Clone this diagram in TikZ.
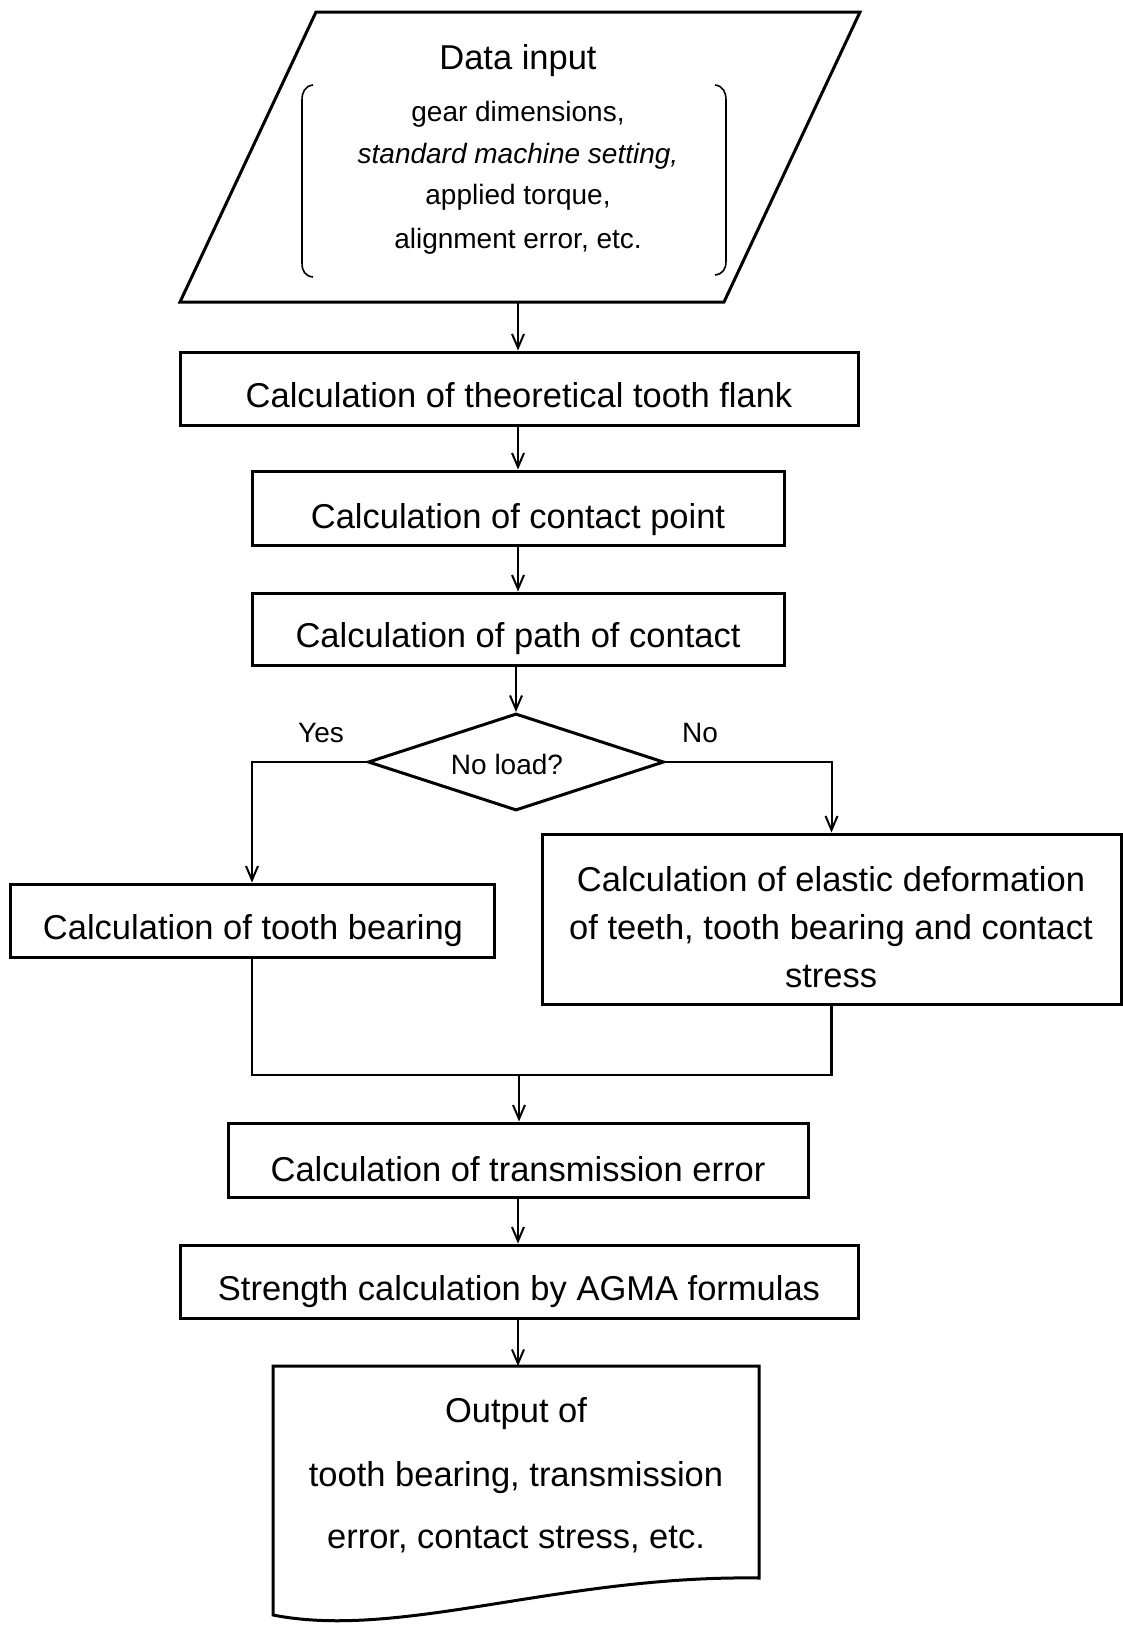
\documentclass[tikz,border=0pt]{standalone}
\usepackage{fontspec}
\setmainfont{Liberation Sans}
\usetikzlibrary{shapes.geometric,arrows.meta}
\tikzset{
  box/.style={draw, line width=3pt, rectangle, inner sep=0pt, fill=white},
  txt/.style={anchor=base, inner sep=0pt, font=\fontsize{34.5}{40}\selectfont},
  stxt/.style={anchor=base, inner sep=0pt, font=\fontsize{28}{33}\selectfont},
  conn/.style={line width=2pt, -{Straight Barb[length=14pt,width=12pt,line width=2pt]}},
  plain/.style={line width=2.2pt},
  brk/.style={line width=1.6pt}
}
\begin{document}
\begin{tikzpicture}[x=1pt,y=-1pt]
\useasboundingbox (0,0) rectangle (1123,1630);
% data input parallelogram
\draw[line width=3pt] (316,12) -- (860,12) -- (724,302) -- (180,302) -- cycle;
\coordinate (pin) at (518,302);
\node[txt] (tin) at (518,69) {Data input};
\draw[brk] (313,85) .. controls (305,86) and (302,92) .. (302,100) -- (302,263) .. controls (302,271) and (305,276) .. (313,277);
\draw[brk] (715,85) .. controls (723,86) and (726,92) .. (726,100) -- (726,261) .. controls (726,269) and (723,274) .. (715,275);
\node[stxt] (l1) at (518,121) {gear dimensions,};
\node[stxt] (l2) at (518,163) {\textit{standard machine setting,}};
\node[stxt] (l3) at (518,204) {applied torque,};
\node[stxt] (l4) at (518,248) {alignment error, etc.};
% boxes
\node[box, minimum width=678pt, minimum height=73pt] (b1) at (519,388.5) {};
\node[txt] (t1) at (519,407) {Calculation of theoretical tooth flank};
\node[box, minimum width=532pt, minimum height=74pt] (b2) at (518,508) {};
\node[txt] (t2) at (518,528) {Calculation of contact point};
\node[box, minimum width=532pt, minimum height=72pt] (b3) at (518,629) {};
\node[txt] (t3) at (518,647) {Calculation of path of contact};
\node[diamond, draw, line width=3pt, aspect=3, minimum width=296pt, minimum height=97pt, inner sep=0pt] (d) at (516,762) {};
\node[stxt] (td) at (507,774) {No load?};
\node[stxt] (yes) at (321,742) {Yes};
\node[stxt] (no) at (700,742) {No};
\node[box, minimum width=484pt, minimum height=73pt] (b4) at (252,920.5) {};
\node[txt] (t4) at (253,939.5) {Calculation of tooth bearing};
\node[box, minimum width=579pt, minimum height=170pt] (b5) at (831.5,919) {};
\node[txt] (t5a) at (831,891) {Calculation of elastic deformation};
\node[txt] (t5b) at (831,939) {of teeth, tooth bearing and contact};
\node[txt] (t5c) at (831,987) {stress};
\node[box, minimum width=580pt, minimum height=74pt] (b6) at (518,1160) {};
\node[txt] (t6) at (518,1181) {Calculation of transmission error};
\node[box, minimum width=678pt, minimum height=73pt] (b7) at (519,1281.5) {};
\node[txt] (t7) at (519,1300) {Strength calculation by AGMA formulas};
% output document
\draw[line width=3pt] (273,1366) coordinate (outtl) -- (759,1366) -- (759,1578)
  .. controls (560,1575) and (400,1640) .. (273,1615) -- cycle;
\coordinate (outtop) at (518,1366);
\node[txt] (o1) at (516,1422) {Output of};
\node[txt] (o2) at (516,1486) {tooth bearing, transmission};
\node[txt] (o3) at (516,1548) {error, contact stress, etc.};
% connectors
\draw[conn] (pin) -- (b1.north -| pin);
\draw[conn] (b1.south -| pin) -- (b2.north -| pin);
\draw[conn] (b2.south -| pin) -- (b3.north -| pin);
\draw[conn] (b3.south -| d.north) -- (d.north);
\draw[conn] (d.west) -| (b4.north);
\draw[conn] (d.east) -| (b5.north);
\coordinate (mL) at (252,1075);
\coordinate (mR) at (831.5,1075);
\coordinate (mj) at (519,1075);
\draw[plain] (b4.south) -- (mL) -- (mR) -- (b5.south);
\draw[conn] (mj) -- (b6.north -| mj);
\draw[conn] (b6.south -| pin) -- (b7.north -| pin);
\draw[conn] (b7.south -| pin) -- (outtop);
\end{tikzpicture}
\end{document}
